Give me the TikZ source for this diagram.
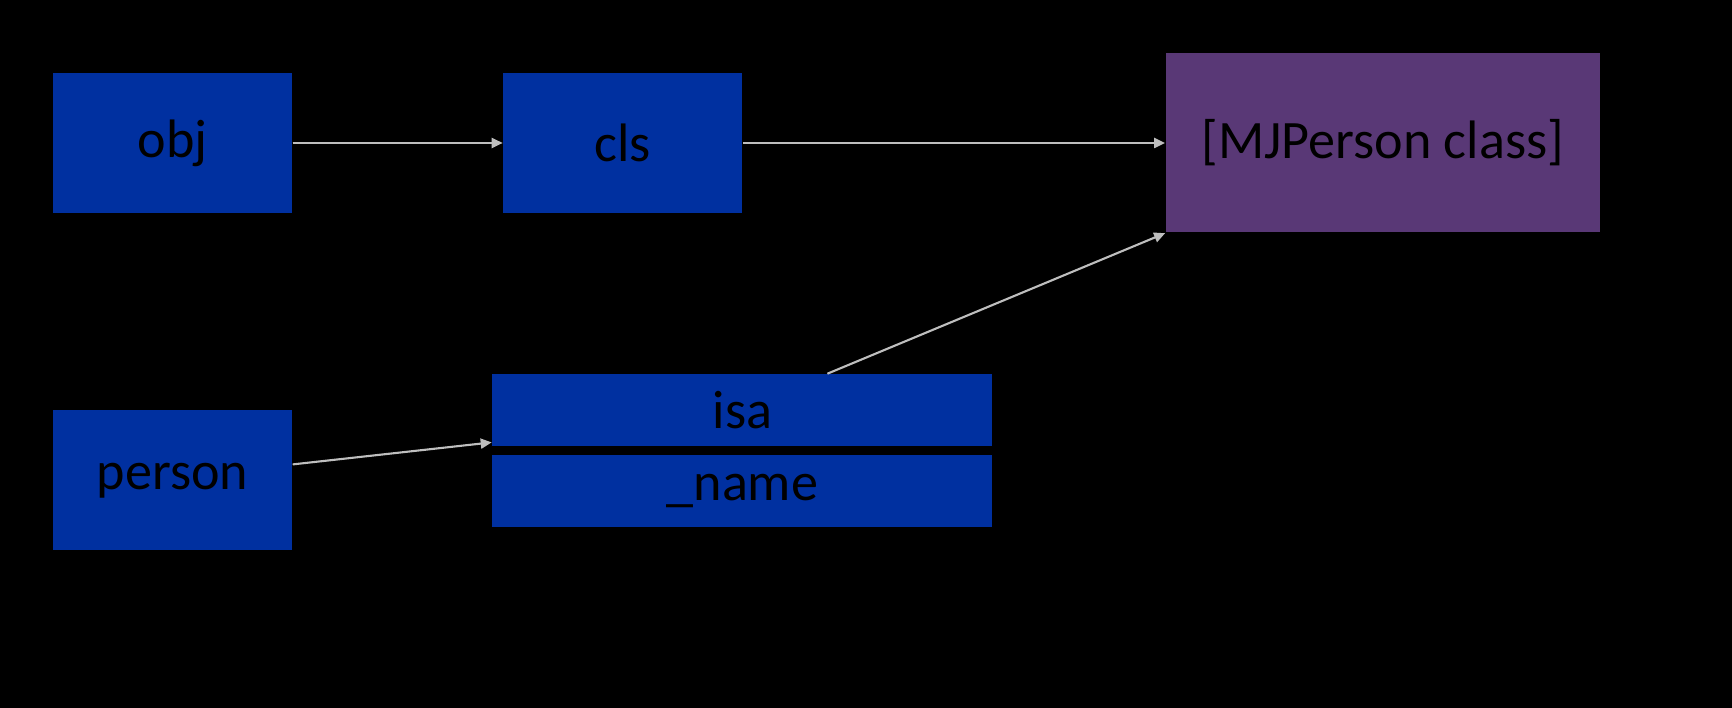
\documentclass[tikz,border=0pt]{standalone}
\usepackage{fontspec}
\setmainfont{Carlito}
\usepackage{tikz}
\usetikzlibrary{positioning,arrows.meta}

\definecolor{boxblue}{RGB}{0,48,160}
\definecolor{classpurple}{RGB}{89,56,118}
\definecolor{arrowgray}{RGB}{190,190,190}

\begin{document}
\begin{tikzpicture}[
  font=\fontsize{15.4}{18}\selectfont,
  box/.style={fill=boxblue,text=black,minimum width=23.9mm,minimum height=14mm,inner sep=0pt},
  field/.style={fill=boxblue,text=black,minimum width=50mm,minimum height=7.2mm,inner sep=0pt},
  classbox/.style={fill=classpurple,text=black,minimum width=43.4mm,minimum height=17.9mm,inner sep=0pt},
  arrow/.style={-{Triangle[length=1.1mm,width=1.0mm]},draw=arrowgray,fill=arrowgray,line width=0.6pt}
]
\fill[black] (0,0) rectangle (17.32,-7.08);
\useasboundingbox (0,0) rectangle (17.32,-7.08);
\node[box] (obj) at (1.725,-1.43) {obj};
\node[box,right=21mm of obj] (cls) {cls};
\node[classbox,right=42.2mm of cls] (mjclass) {[MJPerson class]};
\node[box,below=19.6mm of obj] (person) {person};
\node[field,right=19.9mm of person,yshift=7mm] (isa) {isa};
\node[field,below=0.7mm of isa] (name) {\_name};
\draw[arrow] (obj) -- (cls);
\draw[arrow] (cls) -- (mjclass);
\draw[arrow] ([yshift=1.6mm]person.east) -- ([yshift=-3.2mm]isa.west);
\draw[arrow] ([xshift=8.5mm]isa.north) -- (mjclass.south west);
\end{tikzpicture}
\end{document}
